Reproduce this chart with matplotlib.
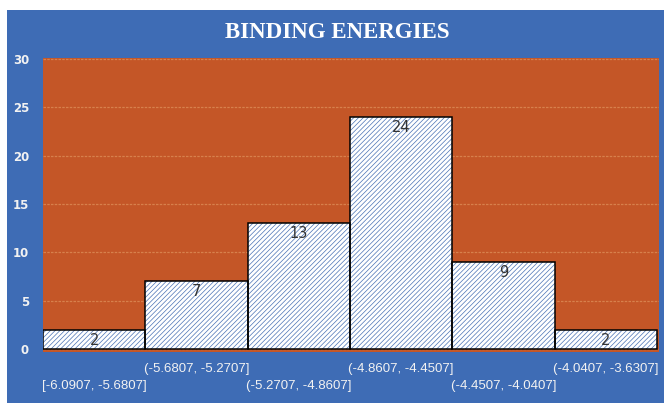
import matplotlib
matplotlib.use("Agg")
import matplotlib.pyplot as plt
from matplotlib.patches import Rectangle

bins = ["[-6.0907, -5.6807]", "(-5.6807, -5.2707]", "(-5.2707, -4.8607]",
        "(-4.8607, -4.4507]", "(-4.4507, -4.0407]", "(-4.0407, -3.6307]"]
counts = [2, 7, 13, 24, 9, 2]
yticks = [0, 5, 10, 15, 20, 25, 30]
title = "BINDING ENERGIES"

BLUE = "#3E6CB5"
ORANGE = "#C45627"
GRID = "#D7804C"
HATCH = "#4A72B5"

plt.rcParams['hatch.linewidth'] = 0.5

fig = plt.figure(figsize=(6.66, 4.03), dpi=100)
fig.patch.set_facecolor("white")
fig.patches.append(Rectangle((7/666, 0), (664-7)/666, 393/403, transform=fig.transFigure,
                             facecolor=BLUE, edgecolor="none", zorder=-10))

ax = fig.add_axes([43/666, (403-352)/403, (659-43)/666, (352-58)/403])
ax.set_facecolor(ORANGE)
x = list(range(len(counts)))
ax.bar(x, counts, width=1.0, color="white", edgecolor=HATCH, linewidth=0,
       hatch="///////", zorder=3)
ax.bar(x, counts, width=1.0, fill=False, edgecolor="black", linewidth=1.1, zorder=3.5)

for xi, c in zip(x, counts):
    ax.text(xi, c - 0.3, str(c), ha="center", va="top", fontsize=10.5,
            color="#333333", family="DejaVu Sans", zorder=4)

ax.set_xlim(-0.5, 5.52)
ax.set_ylim(-0.3, 30.12)
ax.set_yticks(yticks)
ax.set_yticklabels([str(t) for t in yticks], color="#F2F2F2", fontsize=8.5,
                   family="DejaVu Sans", fontweight="bold")
ax.yaxis.grid(True, color=GRID, linewidth=0.9, linestyle=(0, (2, 1)), zorder=0)
ax.set_axisbelow(True)
ax.tick_params(axis="y", length=0, pad=10)
ax.tick_params(axis="x", length=0)
ax.set_xticks(x)
labels = [("\n" + b) if i % 2 == 0 else b for i, b in enumerate(bins)]
ax.set_xticklabels(labels, color="#F2F2F2", fontsize=9.5, family="Liberation Sans",
                   linespacing=1.55)
ax.tick_params(axis="x", pad=8)
for s in ax.spines.values():
    s.set_visible(False)

fig.text(337/666, 1 - 33/403, title, ha="center", va="center", color="white",
         fontsize=16.5, fontweight="bold", family="Liberation Serif")

fig.savefig("out.png", dpi=100, facecolor=fig.get_facecolor())
